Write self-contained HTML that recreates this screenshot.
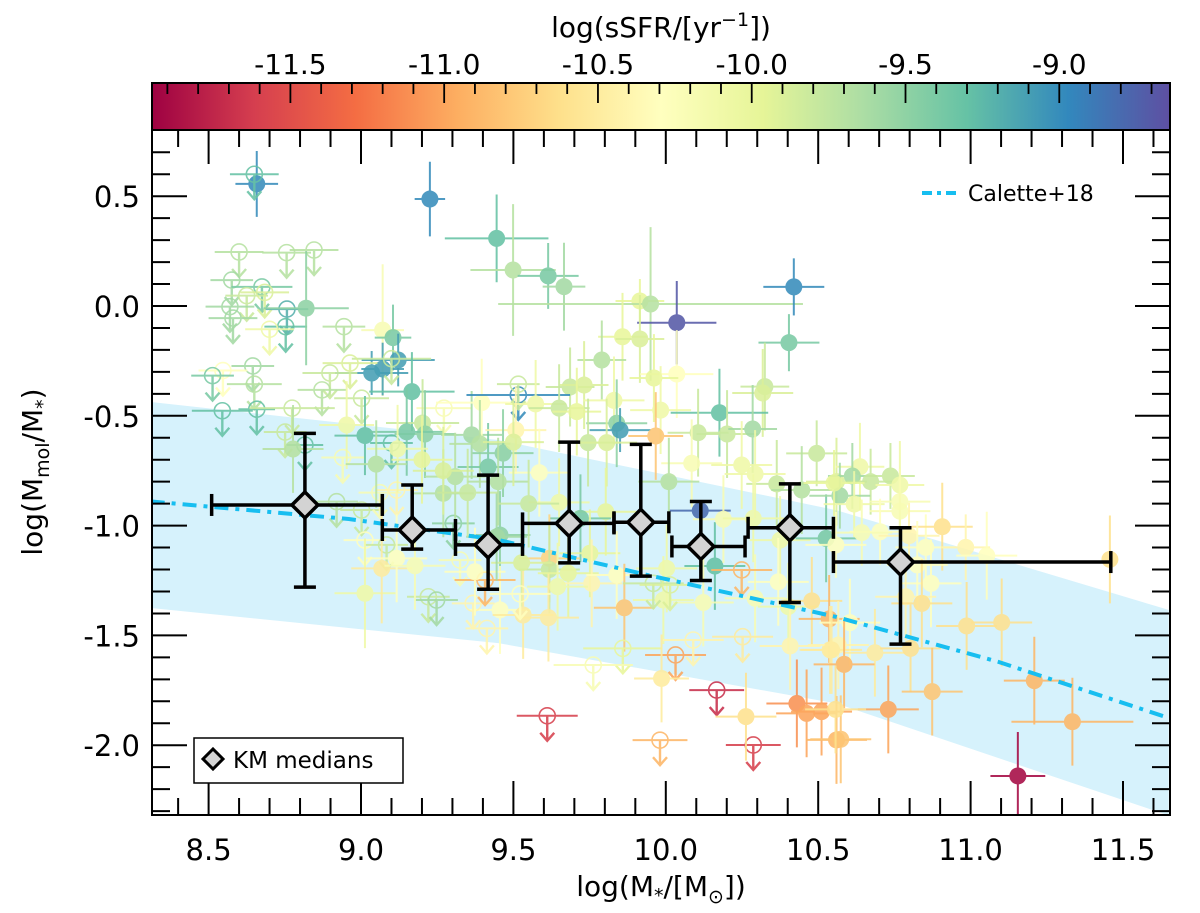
<!DOCTYPE html>
<html><head><meta charset="utf-8"><style>
html,body{margin:0;padding:0;background:#fff}
svg{display:block}
text{font-family:"DejaVu Sans","Liberation Sans",sans-serif;fill:#000}
</style></head><body>
<svg id="c" width="1200" height="913" viewBox="0 0 1200 913"></svg>
<script>
// ---- data ----
const xTicks=[8.5,9.0,9.5,10.0,10.5,11.0,11.5];
const yTicks=[0.5,0.0,-0.5,-1.0,-1.5,-2.0];
const cTicks=[-11.5,-11.0,-10.5,-10.0,-9.5,-9.0];
// galaxies: [logM, logMmol/M, sSFR, xerr, yerr, upperLimit]
const galaxies=[
[8.658,0.556,-9.0,0.07,0.15,0],[8.65,0.60,-9.3,0.08,0,1],[9.226,0.487,-9.0,0.05,0.17,0],[9.445,0.308,-9.3,0.17,0.2,0],
[8.60,0.246,-9.7,0.08,0,1],[8.756,0.243,-9.7,0.08,0,1],[8.846,0.255,-9.7,0.08,0,1],[8.576,0.118,-9.6,0.07,0,1],
[8.675,0.087,-9.4,0.1,0,1],[8.625,0.047,-9.8,0.07,0,1],[8.684,0.062,-9.9,0.08,0,1],[8.57,-0.003,-9.6,0.08,0,1],
[8.58,-0.055,-9.6,0.08,0,1],[8.757,-0.014,-9.2,0.07,0,1],[8.753,-0.094,-9.3,0.07,0,1],[8.70,-0.106,-10.1,0.08,0,1],
[8.944,-0.094,-9.7,0.07,0,1],[8.82,-0.01,-9.5,0.14,0.26,0],[9.071,-0.11,-10.2,0.07,0.3,0],[9.105,-0.144,-9.4,0.06,0.15,0],
[9.122,-0.246,-9.1,0.12,0.12,0],[9.071,-0.287,-9.1,0.07,0.12,0],[9.035,-0.305,-9.1,0.12,0.1,0],[9.10,-0.24,-9.8,0.13,0,1],
[8.964,-0.26,-9.9,0.09,0,1],[8.898,-0.305,-9.8,0.09,0,1],[8.872,-0.382,-9.7,0.08,0,1],[8.645,-0.273,-9.6,0.07,0,1],
[8.547,-0.294,-10.3,0.08,0,1],[8.513,-0.317,-9.4,0.07,0,1],[8.65,-0.356,-9.7,0.09,0,1],[9.002,-0.42,-9.8,0.09,0,1],
[8.545,-0.477,-9.3,0.1,0,1],[8.658,-0.47,-9.3,0.06,0,1],[8.774,-0.465,-9.8,0.14,0,1],[9.272,-0.465,-10.2,0.09,0,1],
[8.751,-0.574,-9.8,0.07,0,1],[8.816,-0.633,-9.3,0.06,0,1],[8.94,-0.69,-10.2,0.07,0,1],[9.10,-0.624,-9.3,0.07,0,1],
[9.167,-0.39,-9.3,0.14,0.18,0],[8.953,-0.542,-10.1,0.09,0.2,0],[9.013,-0.59,-9.3,0.1,0.18,0],[9.202,-0.533,-9.8,0.12,0.2,0],
[9.21,-0.583,-9.5,0.1,0.2,0],[9.363,-0.587,-9.6,0.1,0.2,0],[9.396,-0.44,-10.3,0.15,0.2,0],[8.777,-0.651,-9.7,0.1,0.2,0],
[9.39,-0.628,-9.7,0.1,0.2,0],[9.15,-0.573,-9.4,0.12,0.2,0],[9.417,-0.733,-9.4,0.1,0.2,0],
[9.499,0.164,-9.7,0.14,0.3,0],[9.614,0.137,-9.4,0.1,0.15,0],[9.666,0.088,-9.6,0.07,0.2,0],[9.915,0.023,-10.0,0.08,0.1,0],
[9.95,0.009,-9.7,0.5,0.35,0],[10.036,-0.076,-8.7,0.13,0.19,0],[10.42,0.087,-9.0,0.1,0.13,0],[10.404,-0.167,-9.4,0.1,0.13,0],
[9.858,-0.14,-10.0,0.08,0.2,0],[9.915,-0.15,-9.9,0.08,0.2,0],[9.79,-0.246,-9.7,0.08,0.18,0],[10.036,-0.31,-10.3,0.12,0.2,0],
[9.961,-0.328,-10.0,0.08,0.2,0],[9.686,-0.369,-9.8,0.08,0.18,0],[9.732,-0.36,-9.9,0.08,0.2,0],[10.325,-0.367,-9.8,0.08,0.2,0],
[10.318,-0.396,-9.9,0.1,0.2,0],[9.516,-0.405,-9.0,0.17,0,1],[9.516,-0.356,-9.8,0.07,0,1],[9.573,-0.446,-10.1,0.1,0.2,0],
[9.65,-0.465,-9.8,0.1,0.2,0],[9.708,-0.481,-10.0,0.08,0.2,0],[9.83,-0.43,-10.1,0.1,0.2,0],[9.983,-0.474,-10.1,0.1,0.2,0],
[10.176,-0.486,-9.3,0.16,0.2,0],[9.839,-0.534,-9.5,0.1,0.2,0],[9.85,-0.565,-9.1,0.1,0.1,0],[9.508,-0.565,-10.4,0.1,0.2,0],
[9.967,-0.592,-10.8,0.09,0.2,0],[10.106,-0.577,-9.8,0.1,0.2,0],[10.201,-0.583,-9.8,0.1,0.2,0],[10.285,-0.56,-9.6,0.08,0.2,0],
[9.745,-0.622,-9.8,0.1,0.2,0],[9.806,-0.622,-9.9,0.1,0.2,0],[9.466,-0.67,-9.5,0.1,0.2,0],[10.495,-0.671,-9.8,0.1,0.15,0],
[10.085,-0.716,-10.2,0.1,0.2,0],[10.249,-0.724,-10.1,0.1,0.2,0],
[10.01,-0.80,-9.7,0.1,0.2,0],[9.585,-0.759,-10.3,0.1,0.2,0],[10.364,-0.81,-9.8,0.1,0.2,0],[10.446,-0.838,-9.7,0.1,0.2,0],
[10.56,-0.80,-9.9,0.1,0.2,0],[10.293,-0.765,-10.1,0.1,0.2,0],[9.65,-0.894,-10.1,0.1,0.2,0],[9.803,-0.937,-10.0,0.1,0.2,0],
[9.72,-0.967,-9.4,0.1,0.2,0],[9.456,-1.043,-9.5,0.1,0.2,0],[9.618,-1.149,-10.7,0.1,0.2,0],[9.618,-1.2,-9.8,0.1,0.2,0],
[9.527,-1.169,-9.9,0.1,0.2,0],[9.68,-1.217,-10.0,0.1,0.2,0],[9.751,-1.126,-10.0,0.1,0.2,0],[9.757,-1.263,-10.4,0.1,0.2,0],
[10.003,-1.195,-10.1,0.1,0.2,0],[9.839,-1.225,-10.3,0.1,0.2,0],[9.645,-1.278,-10.1,0.1,0.2,0],[10.161,-1.184,-9.3,0.1,0.2,0],
[10.113,-0.932,-8.8,0.1,0.03,0],[10.189,-0.971,-10.2,0.1,0.2,0],[10.287,-0.967,-10.1,0.1,0.2,0],[10.375,-1.066,-10.1,0.1,0.2,0],
[10.369,-1.256,-10.3,0.1,0.2,0],[10.123,-1.35,-10.2,0.1,0.2,0],[10.293,-1.331,-10.2,0.1,0.2,0],[10.402,-1.369,-10.1,0.1,0.2,0],
[10.479,-1.343,-10.6,0.1,0.2,0],[10.536,-1.425,-10.9,0.1,0.2,0],[10.526,-1.058,-9.4,0.1,0.2,0],[9.456,-1.384,-10.3,0.1,0.2,0],
[9.532,-1.407,-10.5,0.1,0.2,0],[9.615,-1.419,-10.5,0.1,0.2,0],[9.864,-1.374,-10.8,0.1,0.2,0],[9.992,-1.339,-10.1,0.1,0.2,0],
[9.522,-1.311,-10.3,0.1,0,1],[9.959,-1.263,-9.8,0.1,0,1],[10.014,-1.27,-9.9,0.1,0,1],[10.249,-1.202,-10.9,0.1,0,1],
[9.859,-1.559,-10.0,0.13,0,1],[9.762,-1.635,-10.2,0.13,0,1],[10.032,-1.589,-11.0,0.1,0,1],[10.09,-1.521,-10.4,0.1,0,1],
[10.252,-1.506,-10.5,0.1,0,1],[9.611,-1.866,-11.6,0.1,0,1],[10.167,-1.749,-11.7,0.09,0,1],[10.287,-1.999,-11.6,0.09,0,1],
[9.981,-1.977,-10.9,0.09,0,1],[9.986,-1.696,-10.5,0.09,0.2,0],[10.263,-1.87,-10.6,0.1,0.2,0],[10.408,-1.548,-10.4,0.1,0.2,0],
[10.539,-1.566,-10.5,0.1,0.2,0],[10.43,-1.81,-11.1,0.1,0.2,0],[10.462,-1.855,-11.0,0.1,0.2,0],[10.511,-1.847,-11.0,0.1,0.2,0],
[10.56,-1.976,-10.9,0.1,0.2,0],
[10.637,-0.732,-10.1,0.08,0.2,0],[10.612,-0.774,-9.6,0.08,0.15,0],[10.672,-0.80,-9.8,0.08,0.15,0],[10.737,-0.774,-9.8,0.08,0.15,0],
[10.768,-0.815,-10.1,0.08,0.2,0],[10.571,-0.864,-9.6,0.1,0.15,0],[10.618,-0.902,-10.1,0.1,0.15,0],[10.768,-0.891,-10.2,0.1,0.15,0],
[10.768,-0.934,-10.2,0.1,0.15,0],[10.552,-0.806,-10.0,0.1,0.15,0],[10.703,-1.028,-10.3,0.1,0.15,0],[10.643,-1.032,-10.2,0.1,0.15,0],
[10.558,-1.088,-10.3,0.1,0.15,0],[10.798,-1.046,-10.4,0.1,0.15,0],[10.853,-1.099,-10.3,0.1,0.15,0],[10.907,-1.005,-10.6,0.1,0.2,0],
[10.984,-1.099,-10.4,0.08,0.15,0],[11.053,-1.137,-10.3,0.1,0.2,0],[11.457,-1.154,-10.6,0.02,0.2,0],[10.825,-1.179,-10.3,0.1,0.2,0],
[10.87,-1.263,-10.3,0.1,0.2,0],[10.787,-1.324,-10.4,0.1,0.2,0],[10.84,-1.354,-10.6,0.1,0.2,0],[10.604,-1.442,-10.3,0.1,0.2,0],
[10.987,-1.457,-10.6,0.1,0.2,0],[11.102,-1.441,-10.6,0.1,0.2,0],[10.686,-1.579,-10.5,0.1,0.2,0],[10.803,-1.559,-10.6,0.1,0.2,0],
[10.566,-1.544,-10.4,0.1,0.2,0],[10.544,-1.566,-10.5,0.1,0.2,0],[10.585,-1.632,-10.9,0.1,0.2,0],[10.874,-1.756,-10.8,0.1,0.2,0],
[10.73,-1.837,-11.0,0.1,0.2,0],[10.574,-1.973,-10.8,0.1,0.2,0],[10.557,-1.837,-10.6,0.1,0.2,0],[11.209,-1.706,-10.9,0.1,0.2,0],
[11.334,-1.893,-10.9,0.2,0.2,0],[11.155,-2.14,-11.9,0.09,0.2,0],
[8.92,-0.891,-9.7,0.07,0,1],[9.002,-0.929,-9.8,0.07,0,1],[9.013,-1.066,-10.3,0.07,0,1],[9.062,-0.85,-10.2,0.07,0,1],
[9.117,-0.838,-10.4,0.07,0,1],[9.084,-1.088,-9.8,0.07,0,1],[9.303,-0.99,-9.5,0.07,0,1],[9.325,-1.157,-10.2,0.07,0,1],
[9.221,-1.324,-9.8,0.07,0,1],[9.248,-1.339,-9.6,0.07,0,1],[9.368,-1.354,-10.4,0.07,0,1],[9.407,-1.248,-10.9,0.1,0,1],
[9.413,-1.468,-10.4,0.07,0,1],[9.013,-1.308,-10.1,0.1,0.25,0],[9.068,-1.195,-10.5,0.1,0.25,0],[9.117,-1.149,-10.3,0.1,0.2,0],
[9.177,-1.183,-10.2,0.1,0.2,0],[9.27,-0.853,-9.7,0.1,0.2,0],[9.309,-0.777,-9.7,0.1,0.2,0],[9.374,-1.21,-10.3,0.1,0.2,0],
[9.445,-1.051,-9.6,0.1,0.2,0],[9.27,-0.75,-9.9,0.1,0.2,0],[9.2,-0.70,-10.0,0.1,0.2,0],[9.35,-0.85,-9.8,0.1,0.2,0],
[9.45,-0.80,-9.7,0.1,0.2,0],[9.12,-0.65,-10.1,0.1,0.2,0],[9.05,-0.72,-9.7,0.1,0.2,0],[9.55,-0.9,-9.8,0.1,0.2,0],
[9.5,-0.62,-9.9,0.1,0.2,0]
];
// KM medians
const kmX=[8.816,9.168,9.417,9.683,9.918,10.115,10.407,10.77];
const kmY=[-0.906,-1.02,-1.088,-0.99,-0.985,-1.095,-1.01,-1.166];
const kmXlo=[8.51,9.07,9.31,9.53,9.83,10.02,10.27,10.55];
const kmXhi=[9.07,9.31,9.53,9.83,10.01,10.26,10.55,11.46];
const kmYlo=[-1.28,-1.107,-1.29,-1.17,-1.23,-1.25,-1.35,-1.54];
const kmYhi=[-0.58,-0.815,-0.77,-0.62,-0.63,-0.89,-0.81,-1.01];
// Calette+18 relation and band
const calX=[8.31,8.96,9.45,9.94,10.56,11.09,11.65];
const calY=[-0.89,-0.97,-1.065,-1.225,-1.416,-1.62,-1.876];
const bandX=[8.31,9.45,10.56,11.65];
const bandHi=[-0.437,-0.61,-0.93,-1.384];
const bandLo=[-1.375,-1.535,-1.81,-2.32];

// ---- scales ----
const L=152,R=1170,T=130,B=815;
const X=v=>208.6+(v-8.5)*304.8;
const Y=v=>306-v*219.6;
const cMin=-11.95,cMax=-8.64;
const CX=v=>L+(v-cMin)/(cMax-cMin)*(R-L);
const spec=["#9e0142","#d53e4f","#f46d43","#fdae61","#fee08b","#ffffbf","#e6f598","#abdda4","#66c2a5","#3288bd","#5e4fa2"];
function hex(h){return [1,3,5].map(i=>parseInt(h.substr(i,2),16));}
function cmap(v){let t=(v-cMin)/(cMax-cMin);t=Math.max(0,Math.min(1,t));const f=t*10,i=Math.min(9,Math.floor(f)),r=f-i;
 const a=hex(spec[i]),b=hex(spec[i+1]);return "rgb("+a.map((c,k)=>Math.round(c+(b[k]-c)*r)).join(",")+")";}
const NS="http://www.w3.org/2000/svg";
const svg=document.getElementById("c");
function el(tag,attrs,parent){const e=document.createElementNS(NS,tag);for(const k in attrs)e.setAttribute(k,attrs[k]);(parent||svg).appendChild(e);return e;}

const defs=el("defs",{});
const cp=el("clipPath",{id:"clip"},defs);el("rect",{x:L,y:T,width:R-L,height:B-T},cp);
const gr=el("linearGradient",{id:"grad",x1:0,x2:1,y1:0,y2:0},defs);
spec.forEach((c,i)=>el("stop",{offset:(i/10),"stop-color":c},gr));

// colorbar
const cbar=el("rect",{x:L,y:83,width:R-L,height:47,fill:"url(#grad)",stroke:"#000","stroke-width":2});


for(let v=-11.9;v<=-8.65;v+=0.1){const vv=Math.round(v*10)/10;const major=Math.abs(vv*2-Math.round(vv*2))<1e-6;
 el("line",{x1:CX(vv),x2:CX(vv),y1:83,y2:83+(major?20:11),stroke:"#000","stroke-width":1.8});}
cTicks.forEach(v=>{const t=el("text",{x:CX(v),y:74,"font-size":28,"text-anchor":"middle"});t.textContent=v.toFixed(1);
 
 });
const ct=el("text",{x:661,y:37,"font-size":28,"text-anchor":"middle"});


ct.innerHTML='log(sSFR/[yr<tspan dy="-11" font-size="19">−1</tspan><tspan dy="11">])</tspan>';

const g=el("g",{"clip-path":"url(#clip)"});


let bp="M"+bandX.map((x,i)=>X(x)+","+Y(bandHi[i])).join("L")+"L"+bandX.slice().reverse().map((x,i)=>X(x)+","+Y(bandLo[bandX.length-1-i])).join("L")+"Z";
const band=el("path",{d:bp,fill:"#d6f2fc"},g);



galaxies.forEach(d=>{const [x,y,s,xe,ye,lim]=d;const c=cmap(s);const px=X(x),py=Y(y);
 const gg=el("g",{opacity:0.88},g);
 
 
 el("line",{x1:X(x-xe),x2:X(x+xe),y1:py,y2:py,stroke:c,"stroke-width":2},gg);
 if(lim){
  el("circle",{cx:px,cy:py,r:8,fill:"none",stroke:c,"stroke-width":1.6},gg);
  el("line",{x1:px,x2:px,y1:py,y2:py+24,stroke:c,"stroke-width":2.4},gg);
  el("path",{d:`M${px-7},${py+17}L${px},${py+25}L${px+7},${py+17}`,fill:"none",stroke:c,"stroke-width":2.4},gg);
 } else {
  el("line",{x1:px,x2:px,y1:Y(y+ye),y2:Y(y-ye),stroke:c,"stroke-width":2},gg);
  el("circle",{cx:px,cy:py,r:8.5,fill:c},gg);
 }
});

const cal=el("path",{d:"M"+calX.map((x,i)=>X(x)+","+Y(calY[i])).join("L"),fill:"none",stroke:"#17bef0","stroke-width":4,"stroke-dasharray":"14,7,4,7"},g);



kmX.forEach((x,i)=>{const px=X(x),py=Y(kmY[i]);
 const gg=el("g",{},g);
 
 
 const st={stroke:"#000","stroke-width":3.5};
 el("line",Object.assign({x1:X(kmXlo[i]),x2:X(kmXhi[i]),y1:py,y2:py},st),gg);
 el("line",Object.assign({x1:px,x2:px,y1:Y(kmYlo[i]),y2:Y(kmYhi[i])},st),gg);
 [kmXlo[i],kmXhi[i]].forEach(v=>el("line",Object.assign({x1:X(v),x2:X(v),y1:py-11,y2:py+11},st),gg));
 [kmYlo[i],kmYhi[i]].forEach(v=>el("line",Object.assign({x1:px-11,x2:px+11,y1:Y(v),y2:Y(v)},st),gg));
 el("path",{d:`M${px},${py-13}L${px+13},${py}L${px},${py+13}L${px-13},${py}Z`,fill:"#d3d3d3",stroke:"#000","stroke-width":3.5},gg);
});

const fr=el("rect",{x:L,y:T,width:R-L,height:B-T,fill:"none",stroke:"#000","stroke-width":2});


for(let k=84;k<=116;k++){const v=k/10;const px=X(v);if(px<L+1||px>R-1)continue;const major=k%5==0;const len=major?34:17;
 el("line",{x1:px,x2:px,y1:B,y2:B-len,stroke:"#000","stroke-width":2});
 el("line",{x1:px,x2:px,y1:T,y2:T+len,stroke:"#000","stroke-width":2});}
for(let k=-23;k<=7;k++){const v=k/10;const py=Y(v);if(py<T+1||py>B-1)continue;const major=k%5==0;const len=major?35:18;
 el("line",{x1:L,x2:L+len,y1:py,y2:py,stroke:"#000","stroke-width":2});
 el("line",{x1:R,x2:R-len,y1:py,y2:py,stroke:"#000","stroke-width":2});}
xTicks.forEach(v=>{const t=el("text",{x:X(v),y:860,"font-size":29,"text-anchor":"middle"});t.textContent=v.toFixed(1);
 
 });
yTicks.forEach(v=>{const t=el("text",{x:140,y:Y(v)+11,"font-size":29,"text-anchor":"end"});t.textContent=v.toFixed(1);
 
 });
const xl=el("text",{x:661,y:896,"font-size":28,"text-anchor":"middle"});


xl.innerHTML='log(M<tspan dy="6" font-size="19">*</tspan><tspan dy="-6">/[M</tspan><tspan dy="7" font-size="19">⊙</tspan><tspan dy="-7">])</tspan>';
const yl=el("text",{x:0,y:0,"font-size":28,"text-anchor":"middle",transform:"translate(42,472) rotate(-90)"});


yl.innerHTML='log(M<tspan dy="7" font-size="19">mol</tspan><tspan dy="-7">/M</tspan><tspan dy="7" font-size="19">*</tspan><tspan dy="-7">)</tspan>';

const lg1=el("g",{});


el("line",{x1:922,x2:958,y1:193,y2:193,stroke:"#17bef0","stroke-width":4,"stroke-dasharray":"10,5,4,5"},lg1);
const t1=el("text",{x:968,y:201,"font-size":22},lg1);t1.textContent="Calette+18";
const lg2=el("g",{});


el("rect",{x:194,y:738,width:209,height:45,fill:"#fff",stroke:"#000","stroke-width":1.5},lg2);
el("path",{d:"M213,749L223,759L213,769L203,759Z",fill:"#d3d3d3",stroke:"#000","stroke-width":3},lg2);
const t2=el("text",{x:233,y:768,"font-size":23},lg2);t2.textContent="KM medians";
</script>
</body></html>
